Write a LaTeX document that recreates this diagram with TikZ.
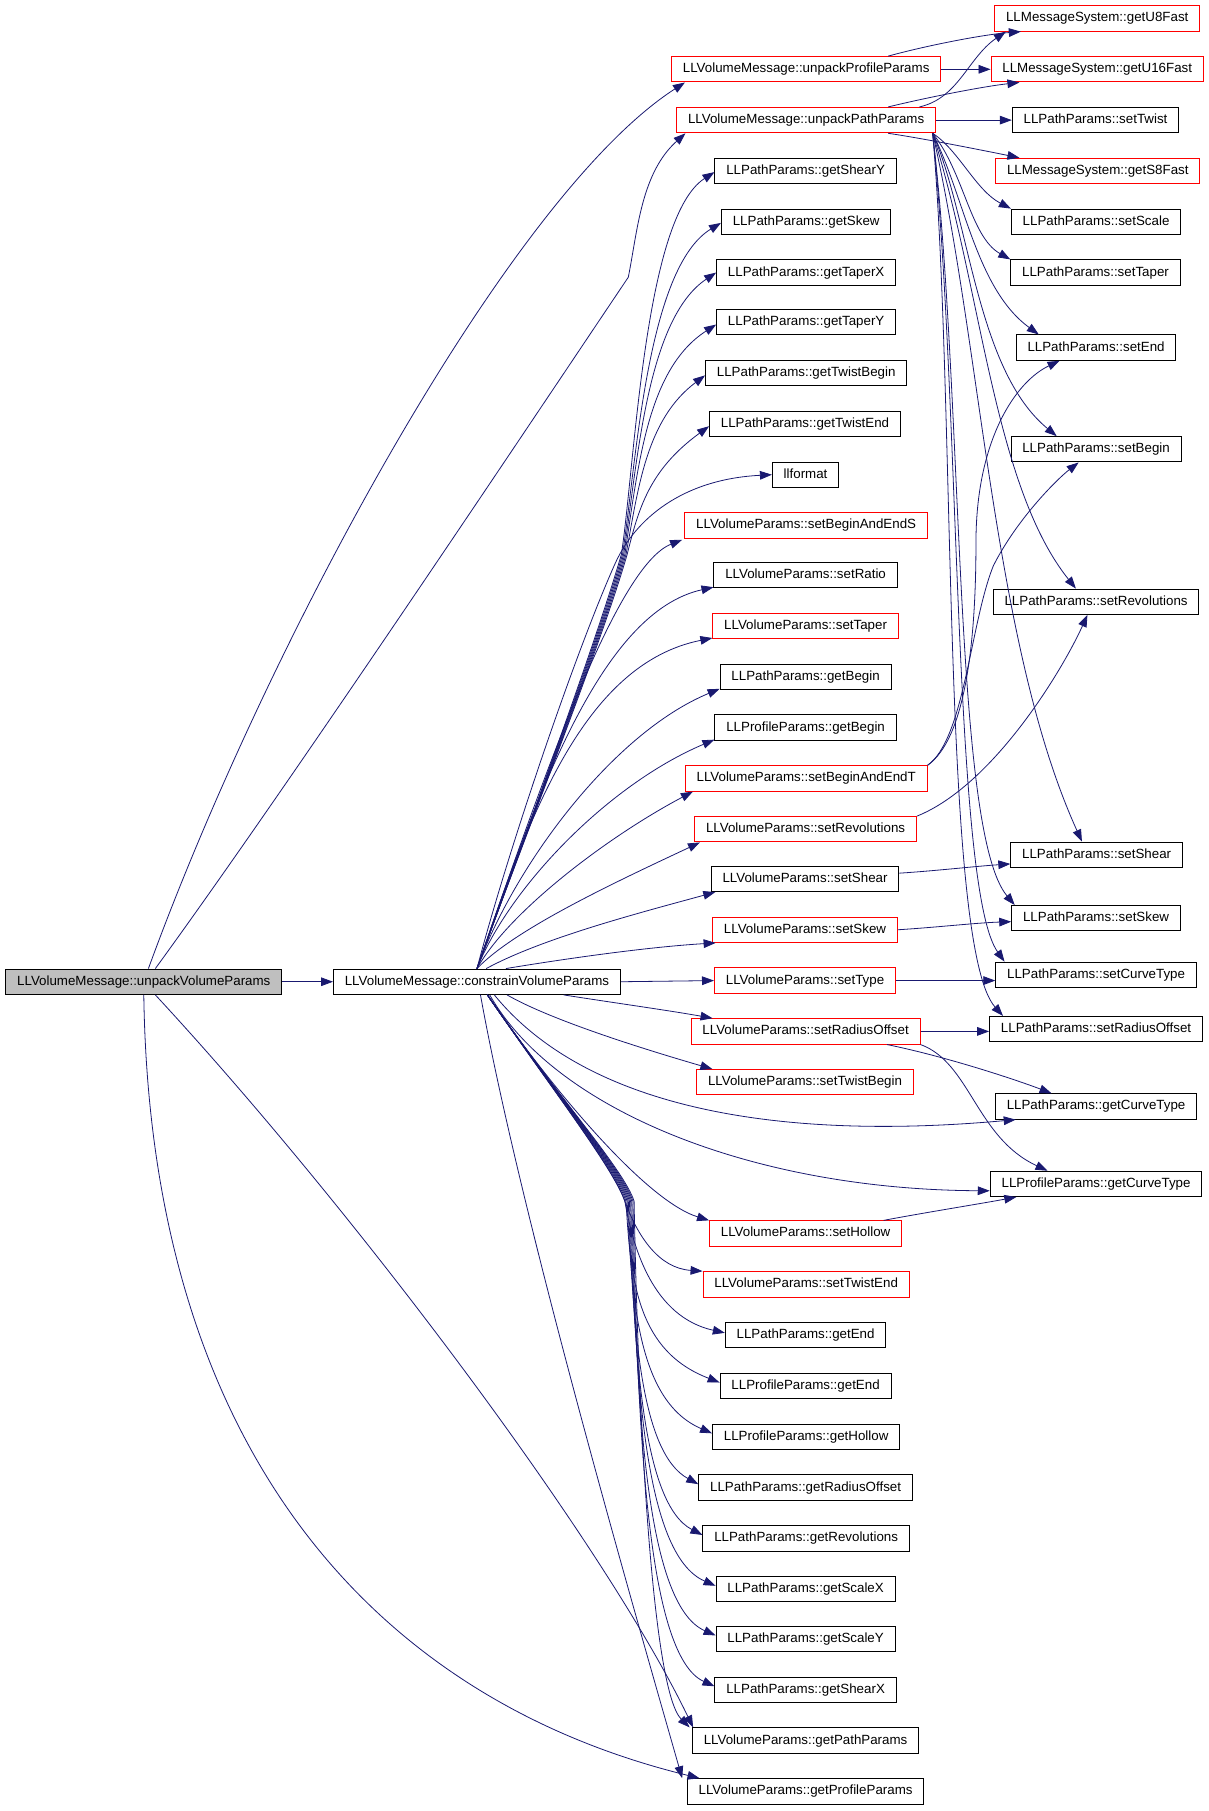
\documentclass[tikz,border=0pt]{standalone}
\usepackage{fontspec}
\setmainfont{Liberation Sans}
\usetikzlibrary{arrows.meta,calc}
\definecolor{edgeblue}{RGB}{25,25,112}
\definecolor{nodegray}{RGB}{191,191,191}
\begin{document}
\begin{tikzpicture}[x=0.8662pt,y=-0.8662pt,
  box/.style={draw=black,line width=0.75pt,fill=white,font=\fontsize{10pt}{12pt}\selectfont,inner xsep=8.5pt,inner ysep=0pt,minimum height=19pt,text height=7.3pt,text depth=2.1pt},
  redbox/.style={box,draw=red},
  graybox/.style={box,fill=nodegray},
  edge/.style={draw=edgeblue,line width=0.6pt,-{Triangle[length=9pt,width=6.5pt]}}]
\useasboundingbox (0,0) rectangle (1046,1568);

% left
\node[graybox] (V) at (124.5,850) {LLVolumeMessage::unpackVolumeParams};
\node[box] (C) at (413,850) {LLVolumeMessage::constrainVolumeParams};
% middle column
\node[redbox] (PP) at (698,60) {LLVolumeMessage::unpackProfileParams};
\node[redbox] (UPP) at (698,104) {LLVolumeMessage::unpackPathParams};
\node[box] (gShY) at (697.5,148) {LLPathParams::getShearY};
\node[box] (gSk) at (698,192) {LLPathParams::getSkew};
\node[box] (gTX) at (698,236) {LLPathParams::getTaperX};
\node[box] (gTY) at (698,279) {LLPathParams::getTaperY};
\node[box] (gTB) at (698,323) {LLPathParams::getTwistBegin};
\node[box] (gTE) at (697,367) {LLPathParams::getTwistEnd};
\node[box] (llf) at (697.5,411) {llformat};
\node[redbox] (sBES) at (698,455) {LLVolumeParams::setBeginAndEndS};
\node[box] (sRat) at (697.5,498) {LLVolumeParams::setRatio};
\node[redbox] (sTapV) at (697.5,542) {LLVolumeParams::setTaper};
\node[box] (gBP) at (697.5,586) {LLPathParams::getBegin};
\node[box] (gBPr) at (697.5,630) {LLProfileParams::getBegin};
\node[redbox] (sBET) at (698,674) {LLVolumeParams::setBeginAndEndT};
\node[redbox] (sRevV) at (697.5,718) {LLVolumeParams::setRevolutions};
\node[box] (sShV) at (697,761) {LLVolumeParams::setShear};
\node[redbox] (sSkV) at (697,805) {LLVolumeParams::setSkew};
\node[redbox] (sTyV) at (697,849) {LLVolumeParams::setType};
\node[redbox] (sROV) at (697.5,893) {LLVolumeParams::setRadiusOffset};
\node[redbox] (sTBV) at (697,937) {LLVolumeParams::setTwistBegin};
\node[redbox] (sHoV) at (697.5,1068) {LLVolumeParams::setHollow};
\node[redbox] (sTEV) at (698,1112) {LLVolumeParams::setTwistEnd};
\node[box] (gEP) at (697.5,1156) {LLPathParams::getEnd};
\node[box] (gEPr) at (697.5,1200) {LLProfileParams::getEnd};
\node[box] (gHPr) at (698,1244) {LLProfileParams::getHollow};
\node[box] (gROP) at (697.5,1288) {LLPathParams::getRadiusOffset};
\node[box] (gRevP) at (698,1332) {LLPathParams::getRevolutions};
\node[box] (gSX) at (697.5,1376) {LLPathParams::getScaleX};
\node[box] (gSY) at (697.5,1419) {LLPathParams::getScaleY};
\node[box] (gShX) at (697.5,1463) {LLPathParams::getShearX};
\node[box] (gPPV) at (697.5,1507) {LLVolumeParams::getPathParams};
\node[box] (gPrPV) at (697.5,1551) {LLVolumeParams::getProfileParams};
% right column
\node[redbox] (U8) at (950,16) {LLMessageSystem::getU8Fast};
\node[redbox] (U16) at (950,60) {LLMessageSystem::getU16Fast};
\node[box] (sTw) at (948.5,104) {LLPathParams::setTwist};
\node[redbox] (S8) at (950.5,148) {LLMessageSystem::getS8Fast};
\node[box] (sSc) at (949,192) {LLPathParams::setScale};
\node[box] (sTapP) at (948.5,236) {LLPathParams::setTaper};
\node[box] (sEnP) at (949,301) {LLPathParams::setEnd};
\node[box] (sBeP) at (949,389) {LLPathParams::setBegin};
\node[box] (sRevP) at (949,521) {LLPathParams::setRevolutions};
\node[box] (sShP) at (949.5,740) {LLPathParams::setShear};
\node[box] (sSkP) at (949,795) {LLPathParams::setSkew};
\node[box] (sCTP) at (949,844) {LLPathParams::setCurveType};
\node[box] (sROP) at (949,891) {LLPathParams::setRadiusOffset};
\node[box] (gCTP) at (949,958) {LLPathParams::getCurveType};
\node[box] (gCTPr) at (949,1025) {LLProfileParams::getCurveType};

% ---- edges from unpackVolumeParams
\draw[edge] (V.east) -- (C.west);
\draw[edge] ($(V.north)+(4,0)$) .. controls (230,560) and (440,170) .. ($(PP.south west)+(12,0)$);
\draw[edge] ($(V.north)+(10,0)$) .. controls (250,680) and (450,380) .. (544,240) .. controls (552,200) and (555,150) .. ($(UPP.south west)+(8,0)$);
\draw[edge] ($(V.south)+(10,0)$) .. controls (300,1040) and (520,1330) .. ($(gPPV.north west)+(1,0)$);
\draw[edge] (V.south) .. controls (130,1250) and (320,1470) .. ($(gPrPV.north west)+(11,0)$);

% ---- constrainVolumeParams: upper fan (straight bundle, then hooks)
\draw[edge] (C.north) .. controls (450,735) and (515,560) .. (538,480) .. controls (550,400) and (558,188) .. ($(gShY.west)+(0,1)$);
\draw[edge] (C.north) .. controls (450,735) and (516,560) .. (539,480) .. controls (551,400) and (560,232) .. ($(gSk.west)+(0,1)$);
\draw[edge] (C.north) .. controls (450,735) and (517,560) .. (540,480) .. controls (552,400) and (560,276) .. (gTX.west);
\draw[edge] (C.north) .. controls (450,735) and (518,560) .. (541,480) .. controls (553,400) and (561,319) .. ($(gTY.west)+(0,2)$);
\draw[edge] (C.north) .. controls (450,735) and (519,560) .. (542,480) .. controls (553,420) and (560,363) .. ($(gTB.west)+(0,2)$);
\draw[edge] (C.north) .. controls (450,735) and (520,560) .. (543,480) .. controls (553,440) and (562,407) .. ($(gTE.west)+(0,2)$);
\draw[edge] (C.north) .. controls (440,735) and (500,560) .. (533,487) .. controls (550,450) and (590,415) .. (llf.west);
\draw[edge] (C.north) .. controls (468,680) and (533,490) .. ($(sBES.south west)+(-2,1)$);
\draw[edge] (C.north) .. controls (464,690) and (520,530) .. ($(sRat.south west)+(0,-1)$);
\draw[edge] (C.north) .. controls (457,710) and (504,575) .. ($(sTapV.south west)+(0,-1)$);
\draw[edge] (C.north) .. controls (445,750) and (530,635) .. ($(gBP.south west)+(0,-1)$);
\draw[edge] (C.north) .. controls (440,770) and (525,680) .. ($(gBPr.south west)+(0,-1)$);
\draw[edge] (C.north) .. controls (440,790) and (525,725) .. ($(sBET.south west)+(7,0)$);
\draw[edge] (C.north) .. controls (445,805) and (530,765) .. ($(sRevV.south west)+(5,0)$);
\draw[edge] ($(C.north)+(8,0)$) .. controls (470,812) and (555,790) .. ($(sShV.south west)+(4,0)$);
\draw[edge] ($(C.north)+(25,0)$) .. controls (490,830) and (560,820) .. ($(sSkV.south west)+(3,0)$);
\draw[edge] (C.east) -- (sTyV.west);
\draw[edge] ($(C.south)+(75,0)$) .. controls (530,868) and (580,875) .. ($(sROV.north west)+(19,0)$);
\draw[edge] ($(C.south)+(26,0)$) .. controls (480,885) and (570,912) .. ($(sTBV.north west)+(14,0)$);
% to the far right
\draw[edge] ($(C.south)+(15,0)$) .. controls (500,950) and (650,990) .. ($(gCTP.south west)+(18,0)$);
\draw[edge] ($(C.south)+(11,0)$) .. controls (480,960) and (650,1030) .. ($(gCTPr.west)+(0,6)$);
% ---- lower fan
\draw[edge] ($(C.south)+(9,0)$) .. controls (480,946) and (560,1040) .. (sHoV.north west);
\draw[edge] ($(C.south)+(9,0)$) .. controls (480,946) and (530,1010) .. (541,1040) .. controls (552,1070) and (570,1098) .. (sTEV.north west);
\draw[edge] ($(C.south)+(9,0)$) .. controls (480,946) and (532,1012) .. (541,1040) .. controls (548,1080) and (565,1140) .. ($(gEP.west)+(0,-2)$);
\draw[edge] ($(C.south)+(9,0)$) .. controls (480,946) and (533,1012) .. (542,1040) .. controls (546,1112) and (553,1170) .. ($(gEPr.west)+(0,-3)$);
\draw[edge] ($(C.south)+(9,0)$) .. controls (480,946) and (534,1012) .. (543,1040) .. controls (547,1132) and (554,1214) .. ($(gHPr.west)+(0,-3)$);
\draw[edge] ($(C.south)+(9,0)$) .. controls (480,946) and (535,1012) .. (544,1040) .. controls (548,1152) and (555,1258) .. ($(gROP.west)+(0,-3)$);
\draw[edge] ($(C.south)+(9,0)$) .. controls (480,946) and (536,1012) .. (545,1040) .. controls (549,1171) and (556,1302) .. ($(gRevP.west)+(0,-3)$);
\draw[edge] ($(C.south)+(9,0)$) .. controls (480,946) and (537,1012) .. (546,1040) .. controls (550,1191) and (557,1346) .. ($(gSX.west)+(0,-3)$);
\draw[edge] ($(C.south)+(9,0)$) .. controls (480,946) and (538,1012) .. (547,1040) .. controls (551,1211) and (558,1389) .. ($(gSY.west)+(0,-3)$);
\draw[edge] ($(C.south)+(9,0)$) .. controls (480,946) and (539,1012) .. (548,1040) .. controls (552,1230) and (559,1433) .. ($(gShX.west)+(0,-3)$);
\draw[edge] ($(C.south)+(9,0)$) .. controls (480,946) and (540,1012) .. (549,1040) .. controls (553,1250) and (566,1465) .. ($(gPPV.north west)+(-2,0)$);
\draw[edge] ($(C.south)+(3,0)$) .. controls (450,1050) and (545,1380) .. ($(gPrPV.north west)+(-4,0)$);

% ---- unpackProfileParams
\draw[edge] ($(PP.north)+(71,0)$) .. controls (800,40) and (850,30) .. ($(U8.south west)+(23,0)$);
\draw[edge] (PP.east) -- (U16.west);
% ---- unpackPathParams
\coordinate (upps) at ($(UPP.south east)+(-3,0)$);
\draw[edge] ($(UPP.north)+(98,0)$) .. controls (830,85) and (838,50) .. ($(U8.south west)+(10,0)$);
\draw[edge] ($(UPP.north)+(71,0)$) .. controls (800,85) and (850,75) .. ($(U16.south west)+(25,0)$);
\draw[edge] (UPP.east) -- (sTw.west);
\draw[edge] ($(UPP.south)+(71,0)$) .. controls (800,120) and (850,130) .. ($(S8.north west)+(21,0)$);
\draw[edge] (upps) .. controls (830,130) and (845,165) .. (sSc.north west);
\draw[edge] (upps) .. controls (835,150) and (840,205) .. (sTapP.north west);
\draw[edge] (upps) .. controls (835,170) and (845,250) .. ($(sEnP.north west)+(20,0)$);
\draw[edge] (upps) .. controls (840,190) and (845,320) .. ($(sBeP.north west)+(40,0)$);
\draw[edge] (upps) .. controls (850,250) and (860,420) .. ($(sRevP.north west)+(72,0)$);
\draw[edge] (upps) .. controls (850,300) and (860,560) .. ($(sShP.north west)+(62,0)$);
\draw[edge] (upps) .. controls (835,350) and (825,720) .. ($(sSkP.north west)+(3,0)$);
\draw[edge] (upps) .. controls (832,350) and (825,770) .. ($(sCTP.north west)+(8,0)$);
\draw[edge] (upps) .. controls (828,350) and (815,820) .. ($(sROP.north west)+(12,0)$);

% ---- setters to LLPathParams / LLProfileParams
\draw[edge] (sBET.north east) .. controls (835,640) and (845,560) .. (845,470) .. controls (845,380) and (880,330) .. ($(sEnP.south west)+(38,0)$);
\draw[edge] (sBET.north east) .. controls (835,640) and (840,540) .. (860,490) .. controls (880,450) and (915,415) .. ($(sBeP.south west)+(59,0)$);
\draw[edge] (sRevV.north east) .. controls (860,680) and (920,580) .. ($(sRevP.south west)+(82,0)$);
\draw[edge] ($(sShV.east)+(0,-5)$) .. controls (810,754) and (845,750) .. ($(sShP.west)+(0,8)$);
\draw[edge] (sSkV.east) .. controls (810,803) and (845,799) .. ($(sSkP.west)+(0,3)$);
\draw[edge] (sTyV.east) -- (sTyV.east -| sCTP.west);
\draw[edge] (sROV.east) -- (sROV.east -| sROP.west);
\draw[edge] ($(sROV.south east)+(-29,0)$) .. controls (820,915) and (880,935) .. ($(gCTP.north west)+(49,0)$);
\draw[edge] (sROV.south east) .. controls (840,920) and (845,985) .. ($(gCTPr.north west)+(50,0)$);
\draw[edge] ($(sHoV.north east)+(-16,0)$) .. controls (800,1050) and (850,1042) .. ($(gCTPr.south west)+(23,0)$);
\end{tikzpicture}
\end{document}
